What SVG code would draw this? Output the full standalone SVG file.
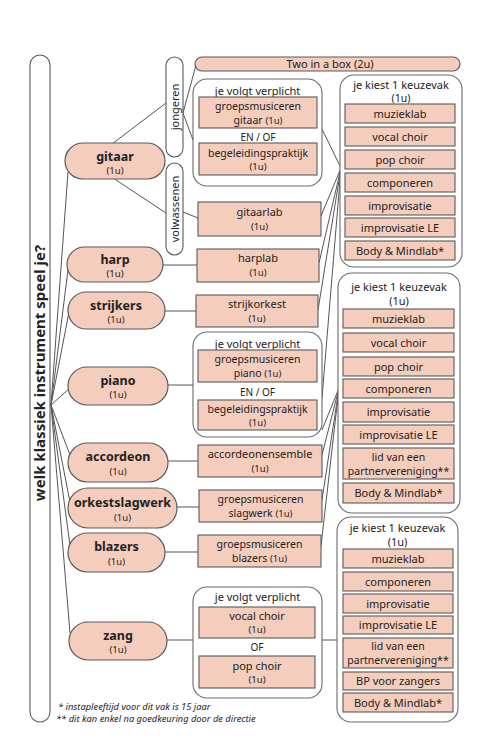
<svg xmlns="http://www.w3.org/2000/svg" width="500" height="750" viewBox="0 0 500 750">
<style>
.bg{fill:#ffffff}
.pill{fill:#f4cdbd;stroke:#5a5a5a;stroke-width:1.2}
.box{fill:#f4cdbd;stroke:#5a5a5a;stroke-width:1.1}
.grp{fill:#ffffff;stroke:#6a6a6a;stroke-width:1.1}
.wpill{fill:#ffffff;stroke:#5a5a5a;stroke-width:1.1}
.ln{stroke:#555555;stroke-width:1;fill:none}
text{font-family:"Noto Sans","DejaVu Sans",sans-serif;fill:#222222;text-anchor:middle}
.nm{font-size:12.5px;font-weight:bold}
.u{font-size:9.5px}
.t{font-size:11px}
.t2{font-size:10.5px}
.s{font-size:10px}
.big{font-size:15px;font-weight:bold}
.fn{font-size:9.3px;font-style:italic;text-anchor:start}
</style>
<rect class="bg" x="0" y="0" width="500" height="750"/>

<g id="connectors">
<line class="ln" x1="51" y1="405" x2="68" y2="172"/>
<line class="ln" x1="51" y1="405" x2="68" y2="270"/>
<line class="ln" x1="51" y1="405" x2="69" y2="312"/>
<line class="ln" x1="51" y1="405" x2="70" y2="388"/>
<line class="ln" x1="51" y1="405" x2="70" y2="455"/>
<line class="ln" x1="51" y1="405" x2="70" y2="502"/>
<line class="ln" x1="51" y1="405" x2="70" y2="545"/>
<line class="ln" x1="51" y1="405" x2="70" y2="633"/>
<line class="ln" x1="112" y1="144" x2="166" y2="103"/>
<line class="ln" x1="113" y1="178" x2="166" y2="213"/>
<line class="ln" x1="183" y1="113" x2="196" y2="65"/>
<line class="ln" x1="183" y1="113" x2="193" y2="140"/>
<line class="ln" x1="183" y1="212" x2="198" y2="218"/>
<line class="ln" x1="163" y1="265" x2="197" y2="265"/>
<line class="ln" x1="165" y1="311" x2="196" y2="311"/>
<line class="ln" x1="168" y1="385" x2="193" y2="385"/>
<line class="ln" x1="168" y1="461" x2="198" y2="461"/>
<line class="ln" x1="177" y1="507" x2="199" y2="507"/>
<line class="ln" x1="165" y1="552" x2="198" y2="552"/>
<line class="ln" x1="167" y1="640" x2="193" y2="640"/>
<line class="ln" x1="322" y1="129" x2="341" y2="168"/>
<line class="ln" x1="321" y1="216" x2="341" y2="168"/>
<line class="ln" x1="319" y1="263" x2="341" y2="168"/>
<line class="ln" x1="318" y1="310" x2="341" y2="168"/>
<line class="ln" x1="322" y1="398" x2="341" y2="168"/>
<line class="ln" x1="322" y1="430" x2="339" y2="388"/>
<line class="ln" x1="322" y1="455" x2="339" y2="388"/>
<line class="ln" x1="322" y1="500" x2="339" y2="388"/>
<line class="ln" x1="321" y1="546" x2="339" y2="388"/>
<line class="ln" x1="322" y1="640" x2="337" y2="640"/>
</g>

<g id="question">
<rect class="wpill" x="30" y="55" width="20" height="667" rx="10"/>
<text class="big" transform="translate(45,373) rotate(-90)">welk klassiek instrument speel je?</text>
</g>

<g id="gitaar"><rect class="pill" x="65" y="143" width="100" height="36" rx="18"/><text class="nm" x="115" y="161">gitaar</text><text class="u" x="115" y="174">(1u)</text></g>
<g id="harp"><rect class="pill" x="67" y="247" width="96" height="35" rx="17.5"/><text class="nm" x="115" y="264">harp</text><text class="u" x="115" y="277">(1u)</text></g>
<g id="strijkers"><rect class="pill" x="68" y="292" width="97" height="37" rx="18.5"/><text class="nm" x="116" y="310">strijkers</text><text class="u" x="116" y="323">(1u)</text></g>
<g id="piano"><rect class="pill" x="68" y="367" width="100" height="38" rx="19"/><text class="nm" x="118" y="385">piano</text><text class="u" x="118" y="398">(1u)</text></g>
<g id="accordeon"><rect class="pill" x="68" y="443" width="100" height="39" rx="19.5"/><text class="nm" x="118" y="461">accordeon</text><text class="u" x="118" y="475">(1u)</text></g>
<g id="orkestslagwerk"><rect class="pill" x="68" y="488" width="109" height="40" rx="20"/><text class="nm" x="122.5" y="507">orkestslagwerk</text><text class="u" x="122.5" y="521">(1u)</text></g>
<g id="blazers"><rect class="pill" x="68" y="533" width="97" height="39" rx="19.5"/><text class="nm" x="116.5" y="551">blazers</text><text class="u" x="116.5" y="565">(1u)</text></g>
<g id="zang"><rect class="pill" x="69" y="622" width="98" height="38" rx="19"/><text class="nm" x="118" y="640">zang</text><text class="u" x="118" y="653">(1u)</text></g>

<g id="jongeren"><rect class="wpill" x="166" y="57" width="17" height="100" rx="8.5"/><text class="t" transform="translate(178.5,107) rotate(-90)">jongeren</text></g>
<g id="volwassenen"><rect class="wpill" x="166" y="163" width="17" height="92" rx="8.5"/><text class="t" transform="translate(178.5,209) rotate(-90)">volwassenen</text></g>

<g id="twoinabox"><rect class="pill" x="195" y="57" width="265" height="14" rx="7"/><text class="t" x="330" y="68">Two in a box (2u)</text></g>

<g id="gitaar-jong">
<rect class="grp" x="193" y="79" width="129" height="107" rx="14"/>
<text class="t" x="257.5" y="94.5">je volgt verplicht</text>
<rect class="box" x="199" y="97" width="118" height="31"/>
<text class="t2" x="258" y="109.5">groepsmusiceren</text><text class="t2" x="258" y="123.5">gitaar <tspan class="u">(1u)</tspan></text>
<text class="s" x="258" y="141">EN / OF</text>
<rect class="box" x="199" y="143" width="118" height="32"/>
<text class="t2" x="258" y="156.5">begeleidingspraktijk</text><text class="u" x="258" y="170">(1u)</text>
</g>
<g id="gitaarlab"><rect class="box" x="198" y="202" width="123" height="34"/><text class="t" x="259.5" y="216">gitaarlab</text><text class="u" x="259.5" y="230">(1u)</text></g>
<g id="harplab"><rect class="box" x="197" y="249" width="122" height="33"/><text class="t" x="258" y="262">harplab</text><text class="u" x="258" y="276">(1u)</text></g>
<g id="strijkorkest"><rect class="box" x="196" y="295" width="122" height="32"/><text class="t" x="257" y="308">strijkorkest</text><text class="u" x="257" y="322">(1u)</text></g>
<g id="piano-grp">
<rect class="grp" x="193" y="332" width="129" height="105" rx="14"/>
<text class="t" x="257.5" y="347.5">je volgt verplicht</text>
<rect class="box" x="198" y="350" width="119" height="32"/>
<text class="t2" x="257.5" y="362.5">groepsmusiceren</text><text class="t2" x="257.5" y="376.5">piano <tspan class="u">(1u)</tspan></text>
<text class="s" x="257.5" y="396">EN / OF</text>
<rect class="box" x="198" y="400" width="119" height="30"/>
<text class="t2" x="257.5" y="412.5">begeleidingspraktijk</text><text class="u" x="257.5" y="426">(1u)</text>
</g>
<g id="accordeonensemble"><rect class="box" x="198" y="445" width="124" height="32"/><text class="t" x="260" y="458">accordeonensemble</text><text class="u" x="260" y="472">(1u)</text></g>
<g id="slagwerk"><rect class="box" x="199" y="490" width="123" height="32"/><text class="t2" x="260.5" y="502.5">groepsmusiceren</text><text class="t2" x="260.5" y="516.5">slagwerk <tspan class="u">(1u)</tspan></text></g>
<g id="blazers-grp"><rect class="box" x="198" y="535" width="123" height="32"/><text class="t2" x="259.5" y="547.5">groepsmusiceren</text><text class="t2" x="259.5" y="561.5">blazers <tspan class="u">(1u)</tspan></text></g>
<g id="zang-grp">
<rect class="grp" x="193" y="587" width="129" height="111" rx="14"/>
<text class="t" x="257.5" y="601">je volgt verplicht</text>
<rect class="box" x="199" y="607" width="116" height="31"/>
<text class="t" x="257" y="620">vocal choir</text><text class="u" x="257" y="633">(1u)</text>
<text class="s" x="257" y="651">OF</text>
<rect class="box" x="199" y="656" width="116" height="32"/>
<text class="t" x="257" y="670">pop choir</text><text class="u" x="257" y="683">(1u)</text>
</g>

<g id="keuze1">
<rect class="grp" x="340" y="75" width="122" height="192" rx="14"/>
<text class="t" x="401" y="89">je kiest 1 keuzevak</text><text class="t2" x="401" y="102">(1u)</text>
<rect class="box" x="345" y="104" width="110" height="19"/><text class="t" x="400" y="117.5">muzieklab</text>
<rect class="box" x="345" y="127" width="110" height="19"/><text class="t" x="400" y="140.5">vocal choir</text>
<rect class="box" x="345" y="150" width="110" height="19"/><text class="t" x="400" y="163.5">pop choir</text>
<rect class="box" x="345" y="173" width="110" height="19"/><text class="t" x="400" y="186.5">componeren</text>
<rect class="box" x="345" y="196" width="110" height="19"/><text class="t" x="400" y="209.5">improvisatie</text>
<rect class="box" x="345" y="218" width="110" height="19"/><text class="t" x="400" y="231.5">improvisatie LE</text>
<rect class="box" x="345" y="241" width="110" height="19"/><text class="t" x="400" y="254.5">Body &amp; Mindlab*</text>
</g>

<g id="keuze2">
<rect class="grp" x="338" y="273" width="122" height="240" rx="14"/>
<text class="t" x="399" y="291">je kiest 1 keuzevak</text><text class="t" x="399" y="305">(1u)</text>
<rect class="box" x="343" y="309" width="111" height="19"/><text class="t" x="398.5" y="322.5">muzieklab</text>
<rect class="box" x="343" y="333" width="111" height="19"/><text class="t" x="398.5" y="346.5">vocal choir</text>
<rect class="box" x="343" y="357" width="111" height="19"/><text class="t" x="398.5" y="370.5">pop choir</text>
<rect class="box" x="343" y="379" width="111" height="19"/><text class="t" x="398.5" y="392.5">componeren</text>
<rect class="box" x="343" y="402" width="111" height="20"/><text class="t" x="398.5" y="416">improvisatie</text>
<rect class="box" x="343" y="425" width="111" height="19"/><text class="t" x="398.5" y="438.5">improvisatie LE</text>
<rect class="box" x="343" y="448" width="111" height="31"/><text class="t2" x="398.5" y="460.5">lid van een</text><text class="t2" x="398.5" y="474.5">partnervereniging**</text>
<rect class="box" x="343" y="483" width="111" height="20"/><text class="t" x="398.5" y="497">Body &amp; Mindlab*</text>
</g>

<g id="keuze3">
<rect class="grp" x="337" y="517" width="121" height="205" rx="14"/>
<text class="t" x="397.5" y="531.5">je kiest 1 keuzevak</text><text class="t" x="397.5" y="545.5">(1u)</text>
<rect class="box" x="343" y="549" width="110" height="19"/><text class="t" x="398" y="562.5">muzieklab</text>
<rect class="box" x="343" y="572" width="110" height="19"/><text class="t" x="398" y="585.5">componeren</text>
<rect class="box" x="343" y="594" width="110" height="19"/><text class="t" x="398" y="607.5">improvisatie</text>
<rect class="box" x="343" y="616" width="110" height="18"/><text class="t" x="398" y="629">improvisatie LE</text>
<rect class="box" x="343" y="638" width="110" height="30"/><text class="t2" x="398" y="650">lid van een</text><text class="t2" x="398" y="664">partnervereniging**</text>
<rect class="box" x="343" y="672" width="110" height="18"/><text class="t" x="398" y="685">BP voor zangers</text>
<rect class="box" x="343" y="693" width="110" height="19"/><text class="t" x="398" y="706.5">Body &amp; Mindlab*</text>
</g>

<g id="footnotes">
<text class="fn" x="58" y="710">*  instapleeftijd voor dit vak is 15 jaar</text>
<text class="fn" x="56" y="722">** dit kan enkel na goedkeuring door de directie</text>
</g>
</svg>
